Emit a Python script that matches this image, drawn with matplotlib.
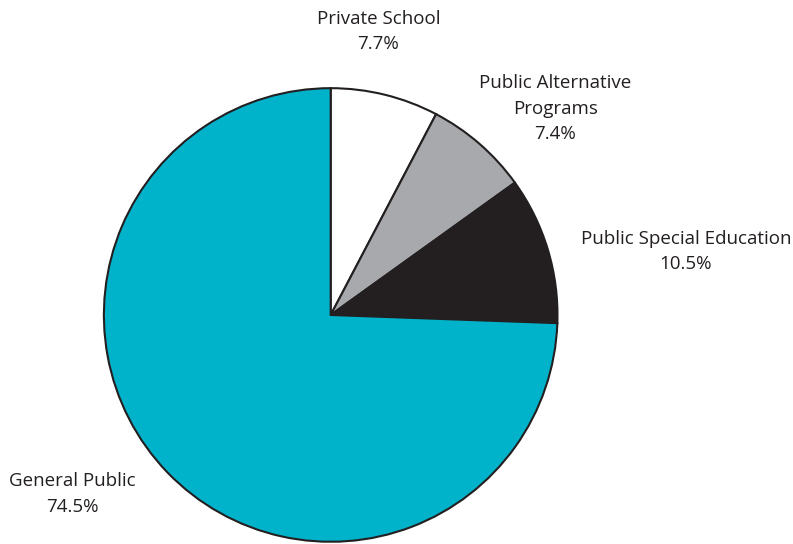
import matplotlib.pyplot as plt

# school placement shares, clockwise from the top
labels = ["Private School", "Public Alternative\nPrograms", "Public Special Education", "General Public"]
shares = [7.7, 7.4, 10.5, 74.5]
colors = ["#ffffff", "#a7a9ac", "#231f20", "#00b3cb"]

plt.rcParams['font.family'] = ['Open Sans', 'DejaVu Sans']

fig = plt.figure(figsize=(7.93, 5.44), dpi=100)
ax = fig.add_axes([0.131, 0.004, 0.572, 0.834])

ax.pie(shares, colors=colors, startangle=90, counterclock=False,
       wedgeprops=dict(edgecolor="#231f20", linewidth=1.5))
ax.set_xlim(-1, 1)
ax.set_ylim(-1, 1)

# label positions in pie coordinates (radius 1)
label_pos = [(0.21, 1.25), (0.99, 0.91), (1.566, 0.28), (-1.14, -0.79)]
for name, val, (x, y) in zip(labels, shares, label_pos):
    ax.text(x, y, f"{name}\n{val}%", ha="center", va="center", fontsize=13.5,
            color="#231f20", linespacing=1.55, clip_on=False)

plt.savefig("out.png", dpi=100)
